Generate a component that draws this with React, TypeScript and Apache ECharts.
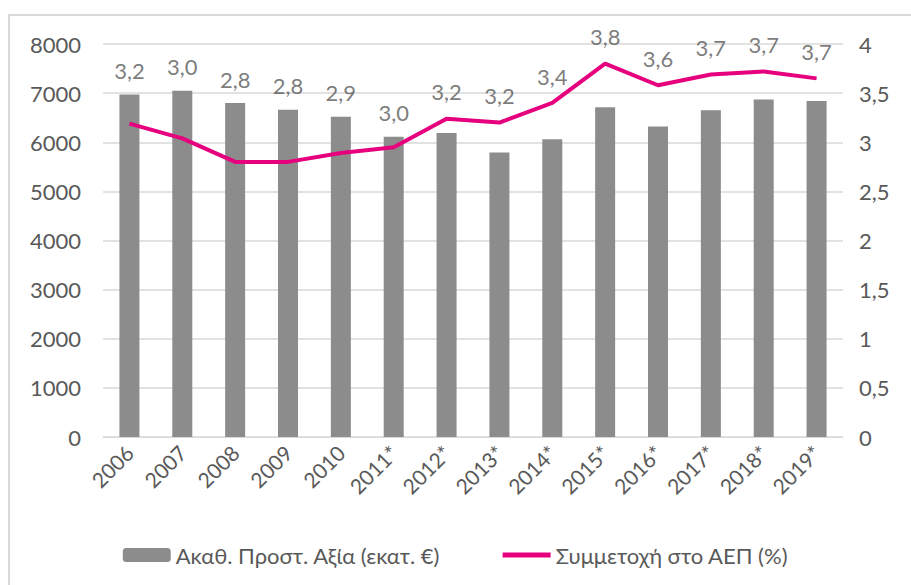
import React, { useEffect, useRef } from "react";
import * as echarts from "echarts";

const years = ["2006", "2007", "2008", "2009", "2010", "2011*", "2012*", "2013*", "2014*", "2015*", "2016*", "2017*", "2018*", "2019*"];
const valueAdded = [6970, 7050, 6800, 6660, 6520, 6110, 6190, 5790, 6060, 6710, 6320, 6650, 6870, 6840];
const gdpShare = [3.19, 3.04, 2.8, 2.8, 2.89, 2.95, 3.24, 3.2, 3.4, 3.8, 3.58, 3.69, 3.72, 3.65];
const gdpLabels = ["3,2", "3,0", "2,8", "2,8", "2,9", "3,0", "3,2", "3,2", "3,4", "3,8", "3,6", "3,7", "3,7", "3,7"];
const leftTicks = { min: 0, max: 8000, interval: 1000 };
const rightTicks = { min: 0, max: 4, interval: 0.5 };

const barName = "Ακαθ. Προστ. Αξία (εκατ. €)";
const lineName = "Συμμετοχή στο ΑΕΠ (%)";

export default function App() {
  const ref = useRef<HTMLDivElement>(null);
  useEffect(() => {
    if (!ref.current) return;
    const chart = echarts.init(ref.current, null, { renderer: "svg" });
    const ratio = leftTicks.max / rightTicks.max;
    const labelAnchors = gdpShare.map((v, i) => Math.max(v + 0.08, valueAdded[i] / ratio + 0.05));
    const font = "Lato, 'Noto Sans', sans-serif";
    const txt = "#595959";
    chart.setOption({
      animation: false,
      textStyle: { fontFamily: font },
      graphic: [
        {
          type: "rect",
          shape: { x: 9, y: 15, width: 940, height: 620 },
          style: { fill: "none", stroke: "#d9d9d9", lineWidth: 2 },
          silent: true,
        },
      ],
      grid: { left: 103, right: 68, top: 44, bottom: 148 },
      legend: {
        bottom: 14,
        left: "center",
        data: [
          { name: barName },
          { name: lineName, itemStyle: { opacity: 0 }, lineStyle: { width: 5, color: "#e6007e" } },
        ],
        itemWidth: 48,
        itemHeight: 14,
        itemGap: 60,
        textStyle: { color: txt, fontSize: 22, fontFamily: font },
      },
      xAxis: {
        type: "category",
        data: years,
        axisLine: { lineStyle: { color: "#d9d9d9" } },
        axisTick: { show: false },
        axisLabel: { rotate: 45, color: txt, fontSize: 21, margin: 12 },
      },
      yAxis: [
        {
          type: "value",
          ...leftTicks,
          axisLine: { show: false },
          axisTick: { show: false },
          splitLine: { lineStyle: { color: "#d9d9d9", width: 1.5 } },
          axisLabel: { color: txt, fontSize: 22, margin: 22, formatter: (v: number) => String(v) },
        },
        {
          type: "value",
          ...rightTicks,
          position: "right",
          axisLine: { show: false },
          axisTick: { show: false },
          splitLine: { show: false },
          axisLabel: {
            color: txt,
            fontSize: 22,
            margin: 16,
            formatter: (v: number) => String(v).replace(".", ","),
          },
        },
      ],
      series: [
        {
          name: barName,
          type: "bar",
          data: valueAdded,
          barWidth: 20,
          itemStyle: { color: "#8c8c8c" },
          yAxisIndex: 0,
        },
        {
          name: lineName,
          type: "line",
          data: gdpShare,
          yAxisIndex: 1,
          symbol: "none",
          lineStyle: { color: "#e6007e", width: 4 },
          itemStyle: { color: "#e6007e" },
        },
        {
          name: "labels",
          type: "scatter",
          yAxisIndex: 1,
          data: labelAnchors,
          symbolSize: 0,
          silent: true,
          label: {
            show: true,
            position: "top",
            distance: 8,
            color: txt,
            fontSize: 22,
            fontFamily: font,
            formatter: (p: any) => gdpLabels[p.dataIndex],
          },
        },
      ],
    });
    return () => chart.dispose();
  }, []);
  return (
    <div
      ref={ref}
      style={{ position: "fixed", left: 0, top: 0, width: 911, height: 585, background: "#fff" }}
    />
  );
}
